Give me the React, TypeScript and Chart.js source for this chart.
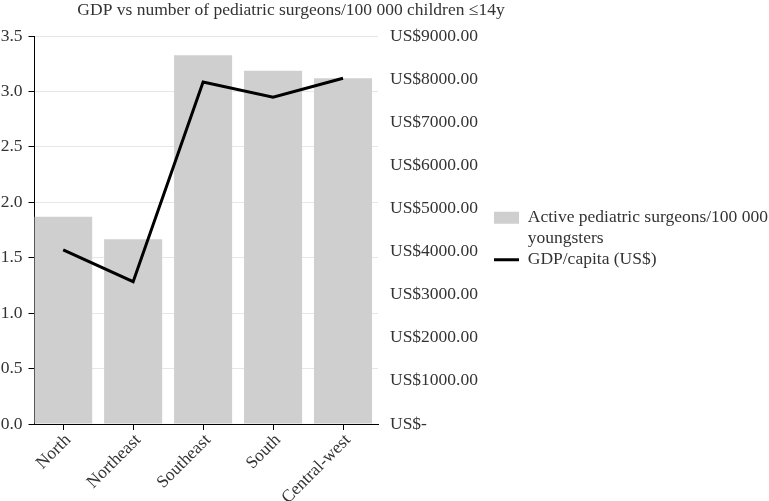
import React, { useEffect, useRef } from "react";
import { Chart, registerables } from "chart.js";

Chart.register(...registerables);

const TITLE = "GDP vs number of pediatric surgeons/100 000 children \u226414y";
const categories = ["North", "Northeast", "Southeast", "South", "Central-west"];
const surgeons = [1.87, 1.666, 3.326, 3.187, 3.118];
const gdp = [4040, 3300, 7933, 7578, 8020];
const surgeonsLabel = ["Active pediatric surgeons/100 000", "youngsters"];
const gdpLabel = "GDP/capita (US$)";
const leftTicks = [0, 0.5, 1, 1.5, 2, 2.5, 3, 3.5];
const rightTicks = [0, 1000, 2000, 3000, 4000, 5000, 6000, 7000, 8000, 9000];

const FONT = "'Liberation Serif', 'Times New Roman', serif";
const FS = 17.5;
const TEXT = "#333333";
const BAR = "#cfcfcf";
const GRID = "#e6e6ee";

const titlePlugin = {
  id: "customTitle",
  afterDraw(chart: any) {
    const ctx = chart.ctx;
    ctx.save();
    ctx.font = `${FS}px ${FONT}`;
    ctx.fillStyle = TEXT;
    ctx.textAlign = "center";
    ctx.textBaseline = "alphabetic";
    ctx.fillText(TITLE, 291, 15);
    ctx.restore();
  },
};

export default function App() {
  const ref = useRef<HTMLCanvasElement | null>(null);
  useEffect(() => {
    document.body.style.margin = "0";
    if (!ref.current) return;
    Chart.defaults.font.family = FONT;
    Chart.defaults.font.size = FS;
    Chart.defaults.color = TEXT;
    const chart = new Chart(ref.current, {
      type: "bar",
      data: {
        datasets: [
          {
            type: "bar",
            label: surgeonsLabel.join(" "),
            data: categories.map((_, i) => ({ x: i, y: surgeons[i] })),
            backgroundColor: BAR,
            borderWidth: 0,
            categoryPercentage: 1,
            barPercentage: 0.83,
            xAxisID: "x",
            yAxisID: "y",
            order: 1,
          } as any,
          {
            type: "line",
            label: gdpLabel,
            data: categories.map((_, i) => ({ x: i, y: gdp[i] })),
            borderColor: "#000000",
            backgroundColor: "#000000",
            borderWidth: 3,
            pointRadius: 0,
            tension: 0,
            borderJoinStyle: "miter",
            xAxisID: "x",
            yAxisID: "y1",
            order: 0,
          } as any,
        ],
      },
      options: {
        animation: false,
        responsive: false,
        layout: { padding: { top: 36, right: 0, bottom: 0, left: 0 } },
        plugins: {
          title: { display: false },
          tooltip: { enabled: false },
          legend: {
            display: true,
            position: "right",
            align: "start",
            fullSize: false,
            maxWidth: 275,
            title: {
              display: true,
              text: "",
              padding: 0,
              font: { size: 10, lineHeight: "173px" } as any,
            },
            labels: {
              usePointStyle: true,
              pointStyleWidth: 25,
              boxHeight: 12,
              padding: 0,
              color: TEXT,
              font: { size: FS, lineHeight: 1.2 },
              generateLabels: (ch: any) =>
                ch.data.datasets.map((ds: any, i: number) => ({
                  text: i === 0 ? surgeonsLabel : ds.label,
                  fillStyle: ds.backgroundColor,
                  strokeStyle: ds.type === "line" ? ds.borderColor : ds.backgroundColor,
                  lineWidth: ds.type === "line" ? 3 : 0,
                  pointStyle: ds.type === "line" ? "line" : "rect",
                  hidden: false,
                  datasetIndex: i,
                  fontColor: TEXT,
                })),
            },
          },
        },
        scales: {
          x: {
            type: "linear",
            offset: false,
            min: -0.41,
            max: 4.5,
            afterBuildTicks: (scale: any) => {
              scale.ticks = categories.map((_, i) => ({ value: i }));
            },
            afterFit: (scale: any) => {
              scale.height = 77;
            },
            ticks: {
              autoSkip: false,
              minRotation: 45,
              maxRotation: 45,
              padding: 0,
              labelOffset: 5,
              color: TEXT,
              font: { size: FS },
              callback: (v: any) => categories[v as number],
            },
            grid: {
              offset: false,
              drawOnChartArea: false,
              tickLength: 6,
              tickColor: "#000000",
            },
            border: { display: true, color: "#000000", width: 1 },
          },
          y: {
            type: "linear",
            position: "left",
            min: 0,
            max: 3.5,
            afterBuildTicks: (scale: any) => {
              scale.ticks = leftTicks.map((v) => ({ value: v }));
            },
            afterFit: (scale: any) => {
              scale.width = 34.5;
            },
            ticks: {
              padding: 6,
              color: TEXT,
              font: { size: FS },
              callback: (v: any) => Number(v).toFixed(1),
            },
            grid: {
              color: GRID,
              tickColor: "#000000",
              tickLength: 6,
              lineWidth: 1,
            },
            border: { display: true, color: "#000000", width: 1 },
          },
          y1: {
            type: "linear",
            position: "right",
            min: 0,
            max: 9000,
            afterBuildTicks: (scale: any) => {
              scale.ticks = rightTicks.map((v) => ({ value: v }));
            },
            afterFit: (scale: any) => {
              scale.width = 116;
            },
            ticks: {
              padding: 12,
              color: TEXT,
              font: { size: FS },
              callback: (v: any) => (Number(v) === 0 ? "US$-" : "US$" + Number(v).toFixed(2)),
            },
            grid: { display: false, drawOnChartArea: false, drawTicks: false },
            border: { display: false },
          },
        },
      } as any,
      plugins: [titlePlugin],
    });
    return () => chart.destroy();
  }, []);
  return (
    <div style={{ width: 769, height: 501, background: "#ffffff" }}>
      <canvas ref={ref} width={769} height={501} style={{ display: "block" }} />
    </div>
  );
}
